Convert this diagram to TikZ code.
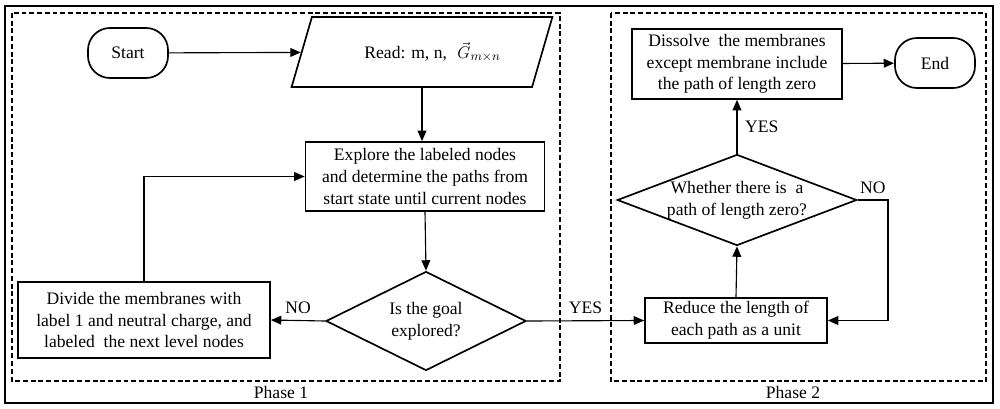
\documentclass[tikz,border=0pt]{standalone}
\usepackage{fontspec}
\setmainfont{Liberation Serif}
\usetikzlibrary{shapes.geometric,arrows.meta}

\begin{document}
\begin{tikzpicture}[
            x=0.025cm, y=-0.025cm,
            font=\fontsize{12.5}{15.5}\selectfont,
            box/.style={draw, line width=1.2pt, align=center, inner sep=0pt},
            term/.style={box, rounded corners=0.55cm, minimum width=2cm, minimum height=1.25cm},
            io/.style={box, trapezium, trapezium left angle=54, trapezium right angle=126, trapezium stretches=true, minimum width=6.525cm, minimum height=1.75cm},
            decision/.style={box, diamond},
            flow/.style={line width=0.8pt, -{Triangle[length=2.6mm, width=2.2mm]}},
            phase/.style={line width=1.1pt, dash pattern=on 3.5pt off 2pt}
        ]
        \useasboundingbox (0,0) rectangle (1000,408);

        % Frames
        \draw[line width=1.4pt] (5,6) rectangle (993,403);
        \draw[phase] (12,13) rectangle (560,381); \draw[phase] (611,13) rectangle (986,381);
        \node (phaseone) at (281,392) {Phase 1}; \node (phasetwo) at (793,392) {Phase 2};

        % Phase 1
        \node[term] (start) at (128,53) {Start}; \node[io] (read) at (422,52) {\hspace{1.2em}Read: m, n,\hspace{0.6em}$\vec{G}_{m\times n}$};
        \node[box, minimum width=5.975cm, minimum height=1.725cm] (explore) at (425,176.5) {Explore the labeled nodes \\ and determine the paths from \\ start state until current nodes};
        \node[decision, aspect=2, minimum width=5cm, minimum height=2.475cm] (goal) at (426,321) {Is the goal \\ explored?};
        \node[box, minimum width=6.3cm, minimum height=1.9cm] (divide) at (144,320) {Divide the membranes with \\ label 1 and neutral charge, and \\ labeled \ the next level nodes};

        % Phase 2
        \node[box, minimum width=4.55cm, minimum height=1.125cm] (reduce) at (736,320.5) {Reduce the length of \\ each path as a unit};
        \node[decision, aspect=2.63, minimum width=5.925cm, minimum height=2.25cm] (whether) at (737,200) {Whether there is \ a \\ path of length zero?};
        \node[box, minimum width=5.25cm, minimum height=1.75cm] (dissolve) at (737,64) {Dissolve \ the membranes \\ except membrane include \\ the path of length zero};
        \node[term] (end) at (935,63) {End};
        \coordinate (noturn) at (888,200);

        % Connectors
        \draw[flow] (start) -- (read); \draw[flow] (read.south) -- (read.south |- explore.north);
        \draw[flow] (explore.south) -- (goal.north);
        \draw[flow] (goal.west) -- node[above=1pt] {NO} (divide.east);
        \draw[flow] (divide.north) |- (explore.west);
        \draw[flow] (goal.east) -- node[pos=0.5, above=1pt] {YES} (reduce.west);
        \draw[flow] (reduce.north) -- (whether.south);
        \draw[flow] (whether.north) -- node[right=2pt] {YES} (dissolve.south);
        \draw[flow] (whether.east) -- node[above=1pt] {NO} (noturn) |- (reduce.east);
        \draw[flow] (dissolve) -- (end);

    \end{tikzpicture}
\end{document}
